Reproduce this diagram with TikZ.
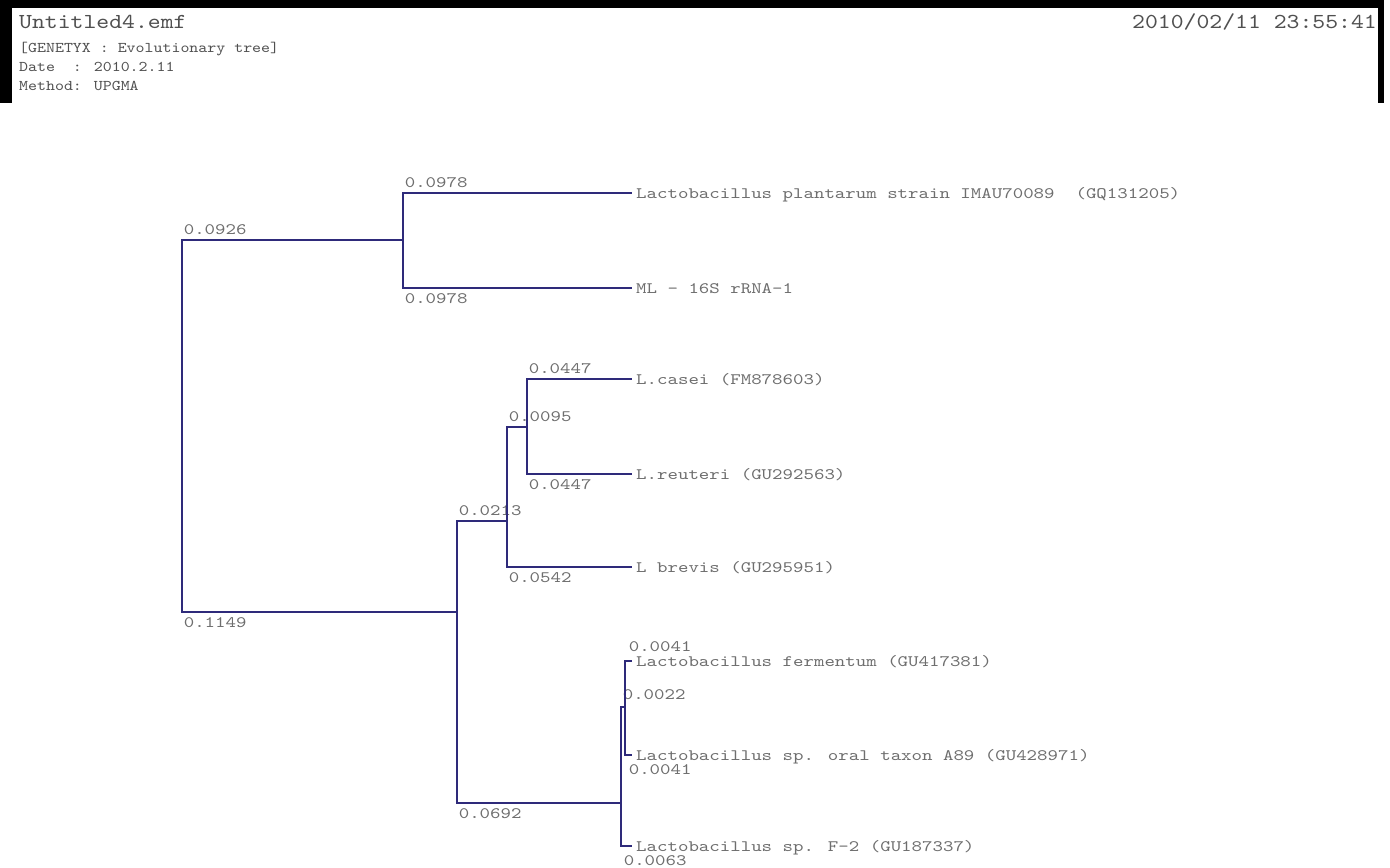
\documentclass[tikz,border=0pt]{standalone}
\usepackage{fontspec}
\newfontfamily\tf[FakeStretch=1.25]{lmmono10-regular.otf}
\newfontfamily\hf[FakeStretch=1.15]{lmmono10-regular.otf}
\definecolor{branch}{RGB}{46,42,122}
\definecolor{labgray}{RGB}{110,110,110}
\definecolor{headgray}{RGB}{80,80,80}
\begin{document}
\begin{tikzpicture}[x=1bp,y=-1bp,
  br/.style={draw=branch,line width=1.6bp},
  leaf/.style={anchor=west,inner xsep=4bp,inner ysep=0pt,text height=10bp,text depth=0bp,
    font=\tf\fontsize{16}{18}\selectfont,text=labgray},
  up/.style={anchor=base west,inner sep=0pt,xshift=1bp,yshift=6bp,
    font=\tf\fontsize{16}{18}\selectfont,text=labgray},
  dn/.style={anchor=base west,inner sep=0pt,xshift=1bp,yshift=-15bp,
    font=\tf\fontsize{16}{18}\selectfont,text=labgray},
  big/.style={inner sep=0pt,font=\hf\fontsize{21.4}{24}\selectfont,text=headgray},
  small/.style={anchor=base west,inner sep=0pt,font=\hf\fontsize{14.9}{17}\selectfont,text=headgray}]
\useasboundingbox (0,0) rectangle (1390,867);
\fill[white] (0,0) rectangle (1390,867);
% header frame
\fill[black] (0,0) rectangle (1384,8);
\fill[black] (0,0) rectangle (12,103);
\fill[black] (1378,0) rectangle (1384,103);
\node[big,anchor=base west] (title) at (19,28) {Untitled4.emf};
\node[big,anchor=base east] (stamp) at (1377,28) {2010/02/11 23:55:41};
\node[small] (h1) at (19,52) {[GENETYX : Evolutionary tree]};
\node[small] (h2) at (19,71) {Date\ \ : 2010.2.11};
\node[small] (h3) at (19,90) {Method: UPGMA};
% internal nodes
\coordinate (R)  at (182,426);
\coordinate (N1) at (403,240);
\coordinate (N2) at (457,612);
\coordinate (N3) at (507,521);
\coordinate (N4) at (527,427);
\coordinate (N5) at (621,803);
\coordinate (N6) at (625,707);
% leaves
\node[leaf] (plant) at (632,193) {Lactobacillus plantarum strain IMAU70089\ \ (GQ131205)};
\node[leaf] (ml)    at (632,288) {ML - 16S rRNA-1};
\node[leaf] (casei) at (632,379) {L.casei (FM878603)};
\node[leaf] (reut)  at (632,474) {L.reuteri (GU292563)};
\node[leaf] (brev)  at (632,567) {L brevis (GU295951)};
\node[leaf] (ferm)  at (632,661) {Lactobacillus fermentum (GU417381)};
\node[leaf] (oral)  at (632,755) {Lactobacillus sp. oral taxon A89 (GU428971)};
\node[leaf] (f2)    at (632,846) {Lactobacillus sp. F-2 (GU187337)};
% branches
\draw[br] (R) |- node[up]{0.0926} (N1);
\draw[br] (R) |- node[dn]{0.1149} (N2);
\draw[br] (N1) |- node[up]{0.0978} (plant.west);
\draw[br] (N1) |- node[dn]{0.0978} (ml.west);
\draw[br] (N2) |- node[up]{0.0213} (N3);
\draw[br] (N2) |- node[dn]{0.0692} (N5);
\draw[br] (N3) |- node[up]{0.0095} (N4);
\draw[br] (N3) |- node[dn]{0.0542} (brev.west);
\draw[br] (N4) |- node[up]{0.0447} (casei.west);
\draw[br] (N4) |- node[dn]{0.0447} (reut.west);
\draw[br] (N5) |- node[up,yshift=2bp]{0.0022} (N6);
\draw[br] (N5) |- node[dn,xshift=1bp,yshift=-4bp]{0.0063} (f2.west);
\draw[br] (N6) |- node[up,xshift=2bp,yshift=4bp]{0.0041} (ferm.west);
\draw[br] (N6) |- node[dn,xshift=2bp,yshift=-4bp]{0.0041} (oral.west);
\end{tikzpicture}
\end{document}
